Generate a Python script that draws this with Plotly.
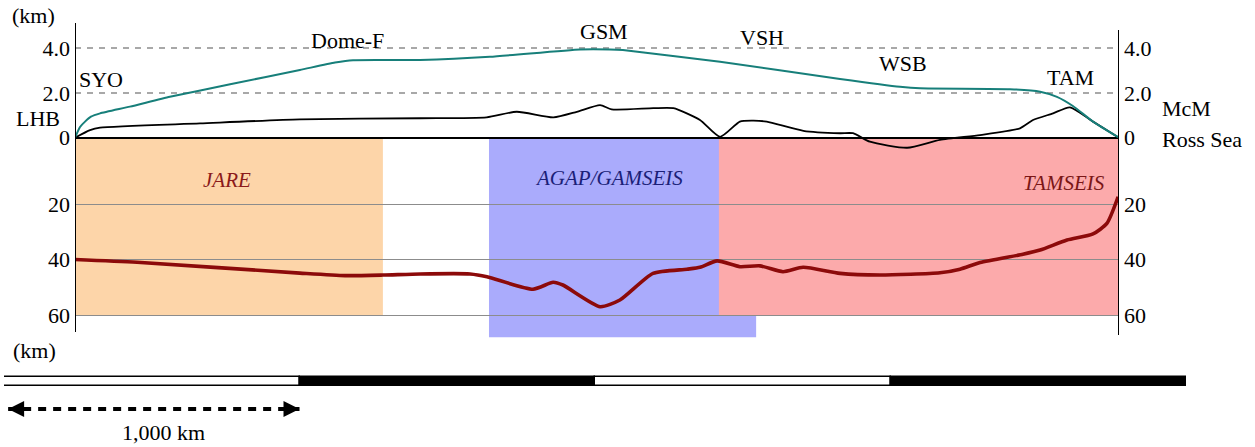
import plotly.graph_objects as go

# ---------------- data ----------------
# distance along the profile (km) and ice-surface elevation (km)
ice_km = [0, 17, 34, 54, 85, 186, 321, 525, 761, 880, 941, 1168, 1404, 1709, 1810, 1854,
          2183, 2589, 2792, 2860, 3164, 3266, 3323, 3377, 3445, 3533]
ice_elev = [0.0, 0.48, 0.72, 0.94, 1.09, 1.39, 1.83, 2.39, 3.03, 3.36, 3.47, 3.48, 3.62, 3.95,
            3.95, 3.92, 3.40, 2.63, 2.28, 2.21, 2.17, 2.06, 1.83, 1.42, 0.72, 0.0]

# bedrock elevation (km)
bed_km = [0, 51, 85, 423, 761, 1168, 1393, 1495, 1619, 1698, 1777, 1816, 1957, 2025,
          2115, 2183, 2250, 2296, 2341, 2465, 2589, 2633, 2690, 2816, 2927, 3063,
          3198, 3242, 3310, 3367, 3445, 3533]
bed_elev = [0.0, 0.34, 0.45, 0.64, 0.82, 0.87, 0.91, 1.16, 0.91, 1.16, 1.46, 1.27, 1.32, 1.32,
            0.79, 0.04, 0.72, 0.76, 0.72, 0.31, 0.20, 0.20, -0.18, -0.45, -0.10, 0.12,
            0.42, 0.79, 1.09, 1.36, 0.72, 0.0]

# Moho depth (km)
moho_km = [0, 210, 761, 914, 1042, 1168, 1337, 1394, 1550, 1618, 1651, 1777, 1844, 1956,
           2071, 2115, 2173, 2250, 2318, 2396, 2464, 2589, 2724, 2927, 2995, 3063, 3208,
           3266, 3357, 3445, 3492, 3530]
moho_depth = [40.0, 41.0, 44.9, 45.8, 45.6, 45.2, 45.2, 46.2, 50.7, 48.2, 49.2, 57.0, 54.6, 45.0,
              43.5, 42.8, 40.5, 42.6, 42.3, 44.4, 42.8, 45.0, 45.6, 44.8, 43.5, 41.1, 38.1,
              36.6, 33.0, 30.8, 27.0, 17.4]

# seismic experiments: name, start km, end km, bottom depth km
surveys = ["JARE", "AGAP/GAMSEIS", "TAMSEIS"]
survey_start = [0, 1401, 2179]
survey_end = [1042, 2305, 3533]
survey_bottom = [60, 68, 60]

# place names along the profile
places = ["LHB", "SYO", "Dome-F", "GSM", "VSH", "WSB", "TAM", "McM", "Ross Sea"]

elev_ticks = [0, 2, 4]
elev_ticktext = ["0", "2.0", "4.0"]
depth_ticks = [20, 40, 60]

scale_km = [0, 1000, 2000, 3000, 4000]
scale_colors = ["white", "black", "white", "black"]
scale_label = "1,000 km"
arrow_km = [14, 1000]

# ---------------- layout geometry ----------------
W, H = 1255, 447
PROFILE_KM = 3533
X_LEFT, X_RIGHT = 75, 1119
PLOT_TOP, PLOT_BOT = 23, 338
ZERO_PX, ELEV_PX = 137.7, 22.35          # elevation scale
DEPTH0_PX, DEPTH_PX = 148.5, 2.775       # depth scale

def fx(px):
    return px / W

def fy(py):
    return 1 - py / H

elev_range = [(ZERO_PX - PLOT_BOT) / ELEV_PX, (ZERO_PX - PLOT_TOP) / ELEV_PX]
depth_range = [(PLOT_BOT - DEPTH0_PX) / DEPTH_PX, (PLOT_TOP - DEPTH0_PX) / DEPTH_PX]
surface_depth = (ZERO_PX + 0.8 - DEPTH0_PX) / DEPTH_PX

SERIF = "Liberation Serif"
FS = 22

fig = go.Figure()

# Moho (depth axis)
fig.add_trace(go.Scatter(x=moho_km, y=moho_depth, mode="lines", xaxis="x", yaxis="y",
                         line=dict(color="#8c0a0a", width=3.6, shape="spline", smoothing=0.6),
                         hoverinfo="skip"))
# bedrock and ice surface (elevation axis)
fig.add_trace(go.Scatter(x=bed_km, y=bed_elev, mode="lines", xaxis="x", yaxis="y2",
                         line=dict(color="black", width=1.8, shape="spline", smoothing=0.6),
                         hoverinfo="skip"))
fig.add_trace(go.Scatter(x=ice_km, y=ice_elev, mode="lines", xaxis="x", yaxis="y2",
                         line=dict(color="#177f7a", width=2, shape="spline", smoothing=0.5),
                         hoverinfo="skip"))

# scale bar
fig.add_trace(go.Bar(x=[scale_km[i + 1] - scale_km[i] for i in range(4)],
                     base=scale_km[:4], y=[-21.7] * 4, orientation="h", width=9,
                     marker=dict(color=scale_colors, line=dict(color="black", width=1.5)),
                     xaxis="x2", yaxis="y5", hoverinfo="skip"))
fig.add_trace(go.Scatter(x=arrow_km, y=[-49, -49],
                         mode="lines+markers", xaxis="x2", yaxis="y5",
                         line=dict(color="black", width=4, dash="8px,7px"),
                         marker=dict(symbol=["arrow-left", "arrow-right"], size=16, color="black",
                                     line=dict(width=0)),
                         hoverinfo="skip"))

survey_fill = ["#fdd5a9", "#aaabfc", "#fcaaab"]
shapes = []
for i in range(len(surveys)):
    shapes.append(dict(type="rect", xref="x", yref="y", layer="below",
                       x0=survey_start[i], x1=survey_end[i],
                       y0=surface_depth, y1=survey_bottom[i],
                       fillcolor=survey_fill[i], line=dict(width=0)))
# vertical frame lines
shapes.append(dict(type="line", xref="x", yref="paper", x0=0, x1=0,
                   y0=fy(332), y1=fy(23), line=dict(color="black", width=2)))
shapes.append(dict(type="line", xref="x", yref="paper", x0=PROFILE_KM, x1=PROFILE_KM,
                   y0=fy(335), y1=fy(30), line=dict(color="black", width=2)))

ann = []
def label(text, px, py, xanchor="center", color="black", italic=False, size=FS):
    ann.append(dict(text=text, x=fx(px), y=fy(py), xref="paper", yref="paper",
                    xanchor=xanchor, yanchor="middle", showarrow=False,
                    font=dict(family=SERIF, size=size, color=color,
                              style="italic" if italic else "normal")))

place_pos = {
    "LHB": (14, 118, "left"), "SYO": (77, 79, "left"), "Dome-F": (347, 40, "center"),
    "GSM": (604, 31, "center"), "VSH": (762, 37, "center"), "WSB": (903, 63, "center"),
    "TAM": (1070, 78, "center"), "McM": (1160, 108, "left"), "Ross Sea": (1160, 139, "left"),
}
for p in places:
    x_, y_, a_ = place_pos[p]
    label(p, x_, y_, a_)

label("(km)", 33, 16)
label("(km)", 34, 350)
label(scale_label, 163, 432)

survey_text = {"JARE": (227, 180, "#8b1a1a"), "AGAP/GAMSEIS": (609, 178, "#1b1f78"),
               "TAMSEIS": (1064, 183, "#7a1616")}
for s in surveys:
    x_, y_, c_ = survey_text[s]
    label(s, x_, y_, color=c_, italic=True, size=21)

dom_main = [fy(PLOT_BOT), fy(PLOT_TOP)]
tickfont = dict(family=SERIF, size=FS, color="black")

fig.update_layout(
    width=W, height=H, margin=dict(l=0, r=0, t=0, b=0),
    paper_bgcolor="white", plot_bgcolor="rgba(0,0,0,0)",
    showlegend=False, hovermode=False, bargap=0,
    xaxis=dict(domain=[fx(X_LEFT), fx(X_RIGHT)], range=[0, PROFILE_KM], visible=False,
               anchor="y"),
    yaxis=dict(domain=dom_main, range=[depth_range[0], depth_range[1]], anchor="x",
               tickvals=depth_ticks, showgrid=True, gridcolor="#8c8c8c", gridwidth=1,
               zeroline=False, showline=False, ticks="", tickfont=tickfont, side="left",
               ticklabelstandoff=4),
    yaxis2=dict(overlaying="y", range=elev_range, anchor="x", side="left",
                tickvals=elev_ticks, ticktext=elev_ticktext, showgrid=True,
                gridcolor="#a8a8a8", gridwidth=1.5, griddash="6px,6px",
                zeroline=True, zerolinecolor="black", zerolinewidth=2,
                showline=False, ticks="", tickfont=tickfont, ticklabelstandoff=4),
    yaxis3=dict(overlaying="y", range=[depth_range[0], depth_range[1]], anchor="x",
                side="right", tickvals=depth_ticks, showgrid=False, zeroline=False,
                showline=False, ticks="", tickfont=tickfont, ticklabelstandoff=4),
    yaxis4=dict(overlaying="y", range=elev_range, anchor="x", side="right",
                tickvals=elev_ticks, ticktext=elev_ticktext, showgrid=False, zeroline=False,
                showline=False, ticks="", tickfont=tickfont, ticklabelstandoff=4),
    xaxis2=dict(domain=[fx(4), fx(1186)], range=[scale_km[0], scale_km[-1]], visible=False,
                anchor="y5"),
    yaxis5=dict(domain=[0, fy(360)], range=[-(H - 360), 0], visible=False, anchor="x2"),
    shapes=shapes, annotations=ann,
)
# dummy traces so the right-hand axes render
fig.add_trace(go.Scatter(x=[None], y=[None], xaxis="x", yaxis="y3", hoverinfo="skip"))
fig.add_trace(go.Scatter(x=[None], y=[None], xaxis="x", yaxis="y4", hoverinfo="skip"))

fig.write_html("out.html", config={"displayModeBar": False},
               post_script="document.body.style.margin='0';document.body.style.padding='0';")
